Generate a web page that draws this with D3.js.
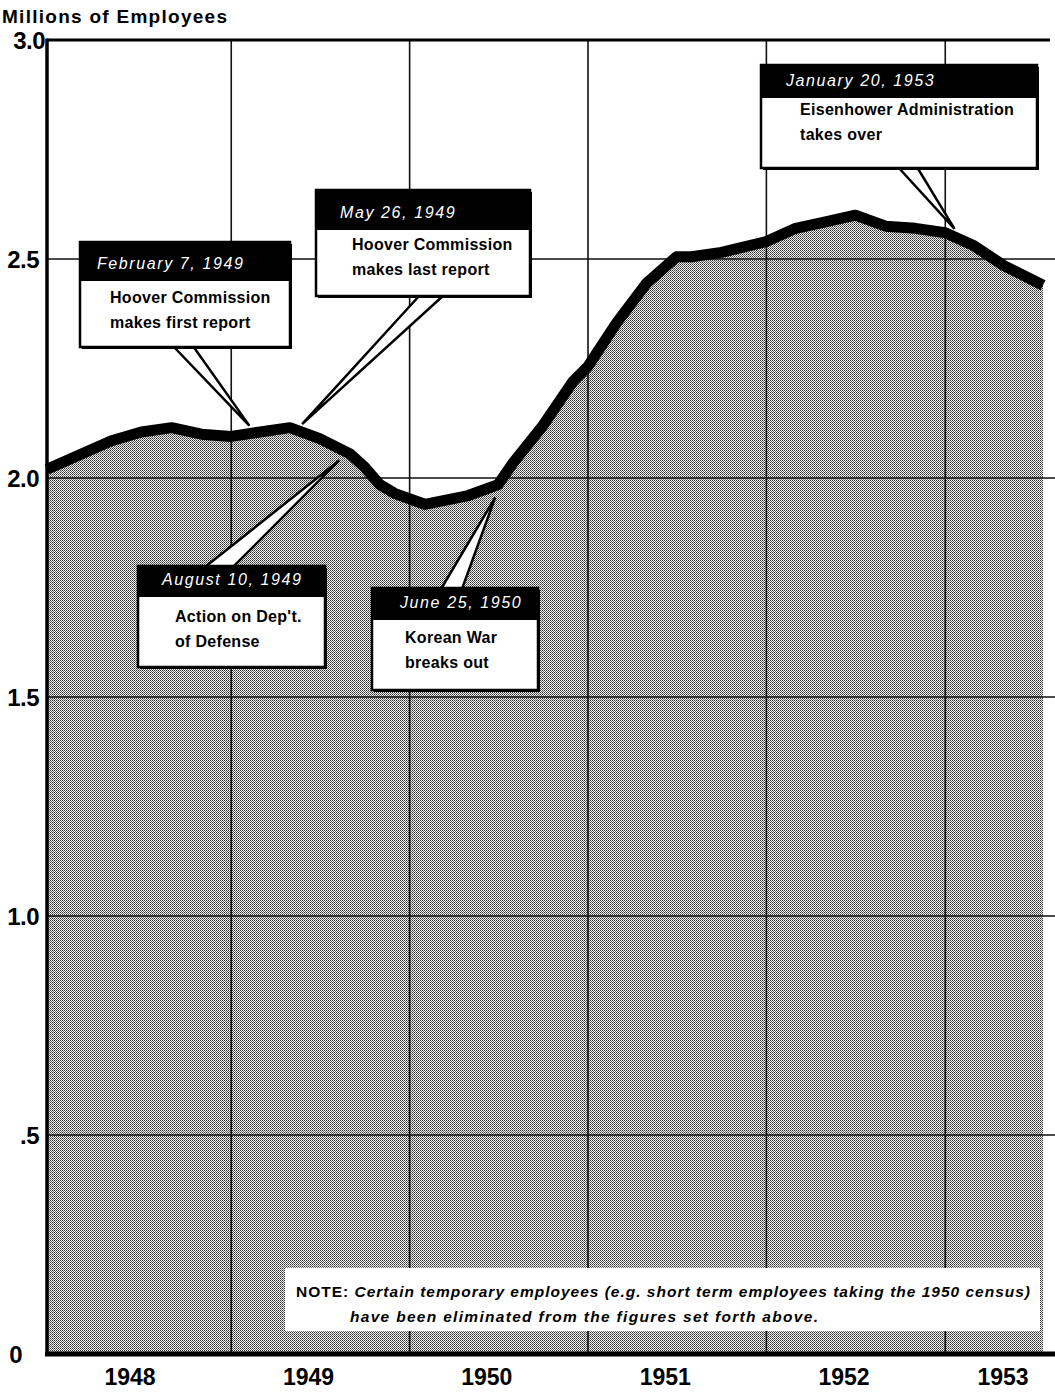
<!DOCTYPE html>
<html>
<head>
<meta charset="utf-8">
<script src="https://cdn.jsdelivr.net/npm/d3@7"></script>
<style>
  html, body { margin: 0; padding: 0; background: #fff; }
  svg { display: block; }
  text { font-family: "Liberation Sans", Arial, sans-serif; }
</style>
</head>
<body>
<div class="vis-employees"></div>
<script>
// federal civilian employment, millions
const months = [
  '1947-12-21', '1948-05', '1948-07', '1948-09', '1948-11', '1949-01', '1949-03', '1949-05',
  '1949-07', '1949-09', '1949-10', '1949-11', '1949-12', '1950-02', '1950-05', '1950-07',
  '1950-08', '1950-10', '1950-12', '1951-01', '1951-03', '1951-05', '1951-07', '1951-08',
  '1951-10', '1952-01', '1952-03', '1952-05', '1952-07', '1952-09', '1952-11', '1953-01',
  '1953-03', '1953-05', '1953-07-20'
];
const employees = [
  2.02, 2.085, 2.105, 2.115, 2.10, 2.095, 2.105, 2.115,
  2.09, 2.055, 2.025, 1.985, 1.965, 1.94, 1.96, 1.985,
  2.035, 2.12, 2.22, 2.255, 2.355, 2.445, 2.505, 2.505,
  2.515, 2.54, 2.57, 2.585, 2.60, 2.575, 2.57, 2.56,
  2.53, 2.485, 2.44
];

const yTicks = [0, 0.5, 1.0, 1.5, 2.0, 2.5, 3.0];
const yTickLabels = ['0', '.5', '1.0', '1.5', '2.0', '2.5', '3.0'];
const years = [1948, 1949, 1950, 1951, 1952, 1953];

const eventDates = ['1949-02-07', '1949-05-26', '1949-08-10', '1950-06-25', '1953-01-20'];
const eventHeads = ['February 7, 1949', 'May 26, 1949', 'August 10, 1949', 'June 25, 1950', 'January 20, 1953'];
const eventLines = [
  ['Hoover Commission', 'makes first report'],
  ['Hoover Commission', 'makes last report'],
  ["Action on Dep't.", 'of Defense'],
  ['Korean War', 'breaks out'],
  ['Eisenhower Administration', 'takes over']
];
const noteLines = [
  'Certain temporary employees (e.g. short term employees taking the 1950 census)',
  'have been eliminated from the figures set forth above.'
];

// box placement for each callout (layout only)
const boxes = [
  { x: 80, y: 242, w: 210, h: 105, hh: 39, hx: 17, bx: 30, b1: 61, side: 'bottom', t0: 173, t1: 193 },
  { x: 316, y: 190, w: 214, h: 106, hh: 40, hx: 24, bx: 36, b1: 60, side: 'bottom', t0: 420, t1: 444 },
  { x: 138, y: 566, w: 187, h: 101, hh: 31, hx: 24, bx: 37, b1: 56, side: 'top', t0: 205, t1: 233 },
  { x: 372, y: 588, w: 166, h: 102, hh: 32, hx: 28, bx: 33, b1: 55, side: 'top', t0: 441, t1: 462 },
  { x: 761, y: 65, w: 276, h: 103, hh: 33, hx: 25, bx: 39, b1: 50, side: 'bottom', t0: 898, t1: 917 }
];

const W = 1055, H = 1397;
const parse = (s) => (s.length > 7 ? d3.timeParse('%Y-%m-%d')(s) : d3.timeParse('%Y-%m')(s));
const data = months.map((m, i) => ({ date: parse(m), value: employees[i] }));

const svg = d3.select('.vis-employees')
  .append('svg')
  .attr('width', W)
  .attr('height', H);

const x = d3.scaleTime()
  .domain([parse('1947-12-21'), parse('1953-07-20')])
  .range([47, 1043]);
const y = d3.scaleLinear()
  .domain([0, 3])
  .range([1354, 40]);

// halftone-ish fill
const defs = svg.append('defs');
const pat = defs.append('pattern')
  .attr('id', 'dots')
  .attr('patternUnits', 'userSpaceOnUse')
  .attr('width', 2)
  .attr('height', 2);
pat.append('rect').attr('width', 2).attr('height', 2).attr('fill', '#f0f0f0');
pat.append('rect').attr('width', 1).attr('height', 1).attr('fill', '#303030');
pat.append('rect').attr('x', 1).attr('y', 1).attr('width', 1).attr('height', 1).attr('fill', '#6a6a6a');

svg.append('path')
  .datum(data)
  .attr('fill', 'url(#dots)')
  .attr('d', d3.area()
    .x((d) => x(d.date))
    .y0(y(0))
    .y1((d) => y(d.value)));

// grid
svg.append('g')
  .selectAll('line')
  .data(yTicks.filter((v) => v > 0 && v < 3))
  .join('line')
  .attr('x1', x.range()[0])
  .attr('x2', W)
  .attr('y1', (d) => y(d))
  .attr('y2', (d) => y(d))
  .attr('stroke', '#111')
  .attr('stroke-width', 1.6);

svg.append('g')
  .selectAll('line')
  .data(years.slice(1))
  .join('line')
  .attr('x1', (d) => x(new Date(d, 0, 1)))
  .attr('x2', (d) => x(new Date(d, 0, 1)))
  .attr('y1', y(3))
  .attr('y2', y(0))
  .attr('stroke', '#111')
  .attr('stroke-width', 1.6);

// frame: top, left, bottom
svg.append('line')
  .attr('x1', x.range()[0]).attr('x2', W - 5)
  .attr('y1', y(3)).attr('y2', y(3))
  .attr('stroke', '#000').attr('stroke-width', 3);
svg.append('line')
  .attr('x1', x.range()[0]).attr('x2', x.range()[0])
  .attr('y1', y(3) - 1.5).attr('y2', y(0) + 2)
  .attr('stroke', '#000').attr('stroke-width', 3.5);
svg.append('line')
  .attr('x1', x.range()[0] - 2).attr('x2', W)
  .attr('y1', y(0)).attr('y2', y(0))
  .attr('stroke', '#000').attr('stroke-width', 5);

// note box
const note = svg.append('g');
note.append('rect')
  .attr('x', 285).attr('y', 1268)
  .attr('width', 755).attr('height', 63)
  .attr('fill', '#fff');
const n1 = note.append('text')
  .attr('x', 296).attr('y', 1297)
  .attr('font-size', 15.5)
  .attr('font-weight', 'bold')
  .attr('textLength', 734)
  .attr('lengthAdjust', 'spacing');
n1.append('tspan').text('NOTE: ');
n1.append('tspan').attr('font-style', 'italic').text(noteLines[0]);
note.append('text')
  .attr('x', 350).attr('y', 1322)
  .attr('font-size', 15.5)
  .attr('font-weight', 'bold')
  .attr('font-style', 'italic')
  .attr('textLength', 468)
  .attr('lengthAdjust', 'spacing')
  .text(noteLines[1]);

// the line itself
svg.append('path')
  .datum(data)
  .attr('fill', 'none')
  .attr('stroke', '#000')
  .attr('stroke-width', 11)
  .attr('stroke-linejoin', 'round')
  .attr('d', d3.line()
    .x((d) => x(d.date))
    .y((d) => y(d.value)));

// value of the series at a date
const valueAt = (dt) => {
  const i = d3.bisector((d) => d.date).left(data, dt);
  const a = data[Math.max(0, i - 1)];
  const b = data[Math.min(data.length - 1, i)];
  if (a === b) return a.value;
  const t = (dt - a.date) / (b.date - a.date);
  return a.value + t * (b.value - a.value);
};

// callouts
eventDates.forEach((ds, i) => {
  const b = boxes[i];
  const dt = parse(ds);
  const tipX = x(dt);
  const tipY = y(valueAt(dt)) + (b.side === 'bottom' ? -8 : 12);
  const baseY = b.side === 'bottom' ? b.y + b.h - 1 : b.y + 1;
  const g = svg.append('g');

  g.append('path')
    .attr('d', `M${b.t0},${baseY}L${tipX},${tipY}L${b.t1},${baseY}Z`)
    .attr('fill', '#fff')
    .attr('stroke', '#000')
    .attr('stroke-width', 2.5)
    .attr('stroke-linejoin', 'miter');

  g.append('rect')
    .attr('x', b.x + 2).attr('y', b.y + 2)
    .attr('width', b.w).attr('height', b.h)
    .attr('fill', '#000');
  g.append('rect')
    .attr('x', b.x).attr('y', b.y)
    .attr('width', b.w).attr('height', b.h)
    .attr('fill', '#fff')
    .attr('stroke', '#000')
    .attr('stroke-width', 2.5);
  g.append('rect')
    .attr('x', b.x).attr('y', b.y)
    .attr('width', b.w).attr('height', b.hh)
    .attr('fill', '#000');

  g.append('text')
    .attr('x', b.x + b.hx)
    .attr('y', b.y + b.hh - 12)
    .attr('fill', '#fff')
    .attr('font-size', 16)
    .attr('font-style', 'italic')
    .attr('letter-spacing', 1.6)
    .text(eventHeads[i]);

  g.selectAll('text.body')
    .data(eventLines[i])
    .join('text')
    .attr('class', 'body')
    .attr('x', b.x + b.bx)
    .attr('y', (d, j) => b.y + b.b1 + j * 24.5)
    .attr('font-size', 16)
    .attr('font-weight', 'bold')
    .attr('letter-spacing', 0.3)
    .text((d) => d);
});

// axis labels
svg.append('text')
  .attr('x', 2).attr('y', 23)
  .attr('font-size', 19)
  .attr('font-weight', 'bold')
  .attr('textLength', 225)
  .attr('lengthAdjust', 'spacing')
  .text('Millions of Employees');

svg.append('g')
  .selectAll('text')
  .data(yTicks)
  .join('text')
  .attr('x', (d) => (d === 0 ? 22 : (d === 3 ? 45 : 39)))
  .attr('y', (d) => y(d))
  .attr('dy', '0.36em')
  .attr('text-anchor', 'end')
  .attr('font-size', 24)
  .attr('font-weight', 'bold')
  .attr('letter-spacing', -0.5)
  .text((d, i) => yTickLabels[i]);

svg.append('g')
  .selectAll('text')
  .data(years)
  .join('text')
  .attr('x', (d) => Math.min(x(new Date(d, 5, 8)), 1003))
  .attr('y', 1385)
  .attr('text-anchor', 'middle')
  .attr('font-size', 23)
  .attr('font-weight', 'bold')
  .text((d) => d);
</script>
</body>
</html>
